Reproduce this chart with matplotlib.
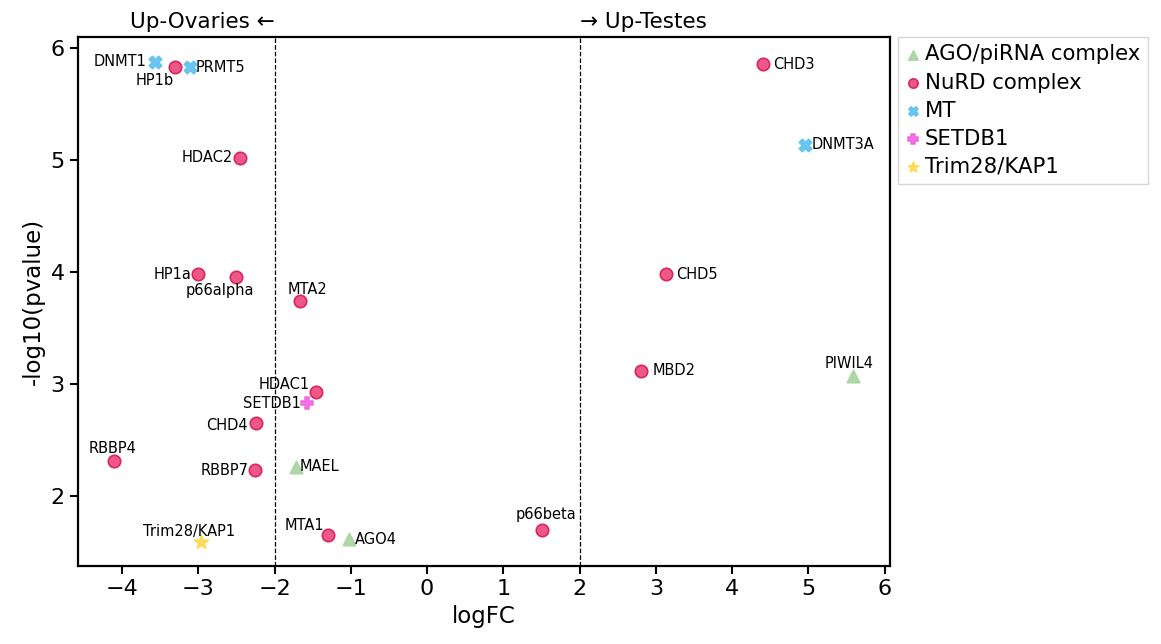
import matplotlib
matplotlib.use("Agg")
import matplotlib.pyplot as plt

# gene, logFC, -log10(pvalue), group
genes = ['DNMT1', 'HP1b', 'PRMT5', 'HDAC2', 'HP1a', 'p66alpha', 'MTA2', 'HDAC1',
         'SETDB1', 'CHD4', 'RBBP4', 'RBBP7', 'MAEL', 'Trim28/KAP1', 'MTA1', 'AGO4',
         'p66beta', 'CHD3', 'DNMT3A', 'CHD5', 'MBD2', 'PIWIL4']
logfc = [-3.57, -3.31, -3.11, -2.45, -3.00, -2.51, -1.66, -1.46,
         -1.57, -2.24, -4.10, -2.26, -1.72, -2.97, -1.30, -1.03,
         1.51, 4.41, 4.95, 3.13, 2.81, 5.58]
neglogp = [5.875, 5.83, 5.83, 5.02, 3.98, 3.96, 3.74, 2.93,
           2.83, 2.65, 2.31, 2.23, 2.26, 1.59, 1.65, 1.62,
           1.70, 5.86, 5.14, 3.98, 3.12, 3.07]
group = ['MT', 'NuRD complex', 'MT', 'NuRD complex', 'NuRD complex', 'NuRD complex',
         'NuRD complex', 'NuRD complex', 'SETDB1', 'NuRD complex', 'NuRD complex',
         'NuRD complex', 'AGO/piRNA complex', 'Trim28/KAP1', 'NuRD complex',
         'AGO/piRNA complex', 'NuRD complex', 'NuRD complex', 'MT', 'NuRD complex',
         'NuRD complex', 'AGO/piRNA complex']

groups = ['AGO/piRNA complex', 'NuRD complex', 'MT', 'SETDB1', 'Trim28/KAP1']
styles = {
    'AGO/piRNA complex': dict(marker='^', color='#a8d5a0', edge='#a8d5a0'),
    'NuRD complex': dict(marker='o', color='#ec4a7c', edge='#d81b5a'),
    'MT': dict(marker='X', color='#5ec3ee', edge='#5ec3ee'),
    'SETDB1': dict(marker='P', color='#f266e0', edge='#f266e0'),
    'Trim28/KAP1': dict(marker='*', color='#ffd84d', edge='#ffd84d'),
}

# label offsets in pixels (dx, dy, ha)
offsets = {
    'DNMT1': (-8, 1, 'right'), 'HP1b': (-20, -13, 'center'), 'PRMT5': (6, 0, 'left'),
    'HDAC2': (-7, 0, 'right'), 'HP1a': (-7, 0, 'right'), 'p66alpha': (-16, -14, 'center'),
    'MTA2': (7, 12, 'center'), 'HDAC1': (-6, 7, 'right'), 'SETDB1': (-6, 0, 'right'),
    'CHD4': (-9, -2, 'right'), 'RBBP4': (-2, 13, 'center'), 'RBBP7': (-6, 0, 'right'),
    'MAEL': (4, 0, 'left'), 'Trim28/KAP1': (-12, 11, 'center'), 'MTA1': (-24, 10, 'center'),
    'AGO4': (6, -1, 'left'), 'p66beta': (4, 15, 'center'), 'CHD3': (10, -1, 'left'),
    'DNMT3A': (7, 0, 'left'), 'CHD5': (10, 0, 'left'), 'MBD2': (11, 0, 'left'),
    'PIWIL4': (-4, 13, 'center'),
}

fig = plt.figure(figsize=(11.61, 6.44), dpi=100)
ax = fig.add_axes([0.067, 0.121, 0.6996, 0.8215])

for g in groups:
    st = styles[g]
    xs = [x for x, gg in zip(logfc, group) if gg == g]
    ys = [y for y, gg in zip(neglogp, group) if gg == g]
    size = 80 if st['marker'] != '*' else 110
    ax.scatter(xs, ys, marker=st['marker'], s=size, c=st['color'],
               edgecolors=st['edge'], linewidths=1.2, alpha=0.92, label=g, zorder=3)

for name, x, y in zip(genes, logfc, neglogp):
    dx, dy, ha = offsets[name]
    ax.annotate(name, (x, y), xytext=(dx, dy), textcoords='offset pixels',
                ha=ha, va='center', fontsize=10.5, zorder=4)

ax.axvline(-2, color='black', linestyle='--', linewidth=0.9)
ax.axvline(2, color='black', linestyle='--', linewidth=0.9)

ax.set_xlim(-4.58, 6.07)
ax.set_ylim(1.375, 6.1)
ax.set_xticks(range(-4, 7))
ax.set_yticks(range(2, 7))
ax.tick_params(labelsize=16, width=1.5, length=6)
for sp in ax.spines.values():
    sp.set_linewidth(1.6)

ax.set_xlabel('logFC', fontsize=16.5)
ax.set_ylabel('-log10(pvalue)', fontsize=16.5)

ax.text(-2, 1.01, 'Up-Ovaries \u2190', transform=ax.get_xaxis_transform(),
        ha='right', va='bottom', fontsize=15.5)
ax.text(2, 1.01, '\u2192 Up-Testes', transform=ax.get_xaxis_transform(),
        ha='left', va='bottom', fontsize=15.5)

ax.legend(loc='upper left', bbox_to_anchor=(1.01, 1.0), fontsize=15.3,
          handletextpad=0.2, borderpad=0.35, labelspacing=0.38,
          handlelength=0.7, borderaxespad=0, frameon=True, fancybox=False,
          markerscale=0.75)

fig.savefig('out.png', dpi=100)
